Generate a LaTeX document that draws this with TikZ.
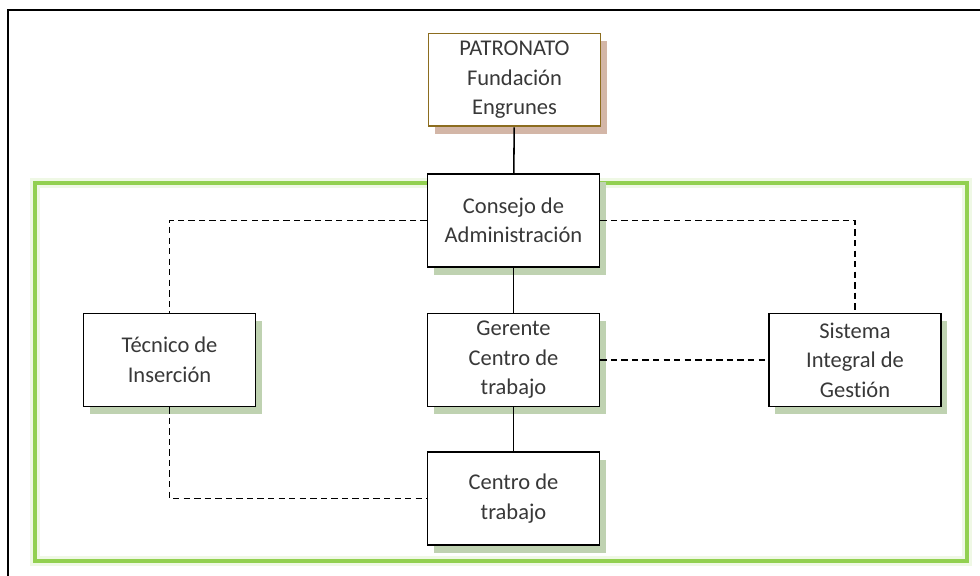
\documentclass[tikz,border=0pt]{standalone}
\usepackage{fontspec}
\setmainfont{Carlito}[Ligatures=NoCommon]
\usepackage{xcolor}
\usetikzlibrary{shadows}
\definecolor{borde}{HTML}{8C6D1F}
\definecolor{sombraroja}{HTML}{D3B6A7}
\definecolor{sombraverde}{HTML}{BFD2B1}
\definecolor{verde}{HTML}{92D050}
\definecolor{texto}{HTML}{383838}

\begin{document}
\begin{tikzpicture}[x=0.025cm, y=-0.025cm,
    caja/.style={draw=black, line width=1.1pt, fill=white, text=texto,
        minimum width=4.3cm, minimum height=2.32cm, align=center,
        font=\fontsize{16}{21}\selectfont,
        drop shadow={shadow xshift=4.5pt, shadow yshift=-5.5pt, fill=sombraverde, opacity=1}},
    cajapat/.style={caja, draw=borde, line width=1.3pt,
        drop shadow={shadow xshift=4.5pt, shadow yshift=-5.5pt, fill=sombraroja, opacity=1}},
    linea/.style={line width=1.1pt},
    discont/.style={line width=1.1pt, dash pattern=on 4.5pt off 3pt}]
    \useasboundingbox (0,0) rectangle (980,576);
    % marco exterior
    \draw[line width=1.1pt] (8,576) -- (8,10) -- (980,10);
    % recuadro verde
    \draw[verde!15, line width=7pt] (35,183) rectangle (967,561);
    \draw[verde, line width=2.2pt] (35,183) rectangle (967,561);

    \node[cajapat] (pat) at (514.5,80) {PATRONATO\\Fundación\\Engrunes};
    \node[caja] (con) at (513.5,220.5) {Consejo de\\Administración};
    \node[caja] (tec) at (169.5,360) {Técnico de\\Inserción};
    \node[caja] (ger) at (513.5,360) {Gerente\\Centro de\\trabajo};
    \node[caja] (sig) at (855,360) {Sistema\\Integral de\\Gestión};
    \node[caja] (cen) at (513.5,498.5) {Centro de\\trabajo};

    \draw[linea] (pat) -- (con);
    \draw[linea] (con) -- (ger);
    \draw[linea] (ger) -- (cen);
    \draw[discont] (con.west) -| (tec.north);
    \draw[discont] (con.east) -| (sig.north);
    \draw[discont] (ger.east) -- (sig.west);
    \draw[discont] (tec.south) |- (cen.west);
\end{tikzpicture}
\end{document}
